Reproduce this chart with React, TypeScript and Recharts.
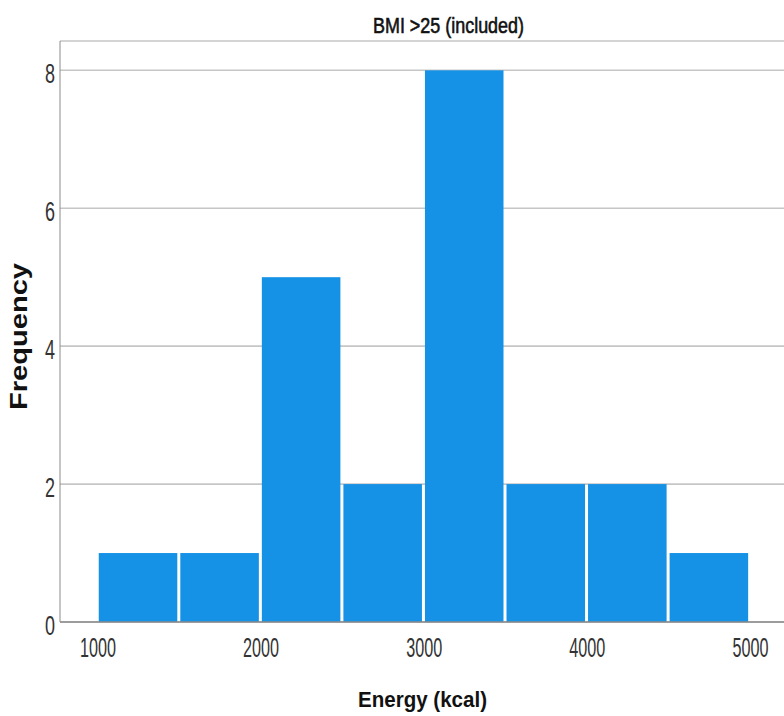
import React from 'react';
import { BarChart, Bar, XAxis, YAxis, CartesianGrid, Customized } from 'recharts';

const binStarts = [1000, 1500, 2000, 2500, 3000, 3500, 4000, 4500];
const binWidth = 500;
const frequencies = [1, 1, 5, 2, 8, 2, 2, 1];
const xTicks = [1000, 2000, 3000, 4000, 5000];
const yTicks = [0, 2, 4, 6, 8];
const title = 'BMI >25 (included)';
const xTitle = 'Energy (kcal)';
const yTitle = 'Frequency';

const data = binStarts.map((s, i) => ({ mid: s + binWidth / 2, freq: frequencies[i] }));

const W = 784;
const H = 716;
const X_AXIS_H = 94;
const MARGIN = { top: 41, right: 0, bottom: 0, left: 0 };
const Y_AXIS_W = 60;
const X_DOMAIN: [number, number] = [773, 5212];
const Y_DOMAIN: [number, number] = [0, 8.425];
const plotW = W - MARGIN.left - MARGIN.right - Y_AXIS_W;
const barPx = (binWidth * plotW) / (X_DOMAIN[1] - X_DOMAIN[0]);

const FONT = "'Liberation Sans', Arial, sans-serif";
const BAR_COLOR = '#1591e6';

const XTick = (props: any) => {
  const { x, payload } = props;
  return (
    <text x={x + 1} y={657} fontFamily={FONT} fontSize={27} fill="#333" textAnchor="middle"
      textLength={36} lengthAdjust="spacingAndGlyphs">
      {payload.value}
    </text>
  );
};

const YTick = (props: any) => {
  const { y, payload } = props;
  return (
    <text x={55} y={y + 12.5} fontFamily={FONT} fontSize={27} fill="#333" textAnchor="end"
      textLength={10} lengthAdjust="spacingAndGlyphs">
      {payload.value}
    </text>
  );
};

const BarShape = (props: any) => {
  const { x, y, width, height } = props;
  if (!height || height <= 0) return null;
  const cx = x + width / 2;
  return <rect x={cx - barPx / 2 + 1.5} y={y} width={barPx - 3} height={height} fill={BAR_COLOR} />;
};

const Titles = () => (
  <g>
    <text x={448.5} y={33} fontFamily={FONT} fontSize={22} fill="#111" stroke="#111" strokeWidth={0.6}
      textAnchor="middle" textLength={151} lengthAdjust="spacingAndGlyphs">
      {title}
    </text>
    <text x={422.5} y={707} fontFamily={FONT} fontSize={22.5} fontWeight="bold" fill="#111"
      textAnchor="middle" textLength={129} lengthAdjust="spacingAndGlyphs">
      {xTitle}
    </text>
    <text x={27} y={336.5} fontFamily={FONT} fontSize={24} fontWeight="bold" fill="#111"
      textAnchor="middle" textLength={147} lengthAdjust="spacingAndGlyphs"
      transform="rotate(-90 27 336.5)">
      {yTitle}
    </text>
  </g>
);

export default function App() {
  return (
    <div style={{ position: 'absolute', left: 0, top: 0, width: W, height: H, background: '#fff' }}>
      <BarChart width={W} height={H} data={data} margin={MARGIN} barCategoryGap={0} barGap={0}>
        <CartesianGrid vertical={false} stroke="#c6c6c6" strokeWidth={1.6} />
        <XAxis
          type="number"
          dataKey="mid"
          domain={X_DOMAIN}
          ticks={xTicks}
          allowDataOverflow
          tickLine={false}
          axisLine={{ stroke: '#8a8a8a', strokeWidth: 1.5 }}
          tick={<XTick />}
          height={X_AXIS_H}
          interval={0}
        />
        <YAxis
          type="number"
          domain={Y_DOMAIN}
          ticks={yTicks}
          allowDataOverflow
          tickLine={false}
          axisLine={{ stroke: '#8a8a8a', strokeWidth: 1 }}
          tick={<YTick />}
          width={Y_AXIS_W}
          interval={0}
        />
        <Bar dataKey="freq" shape={<BarShape />} isAnimationActive={false} />
        <Customized component={Titles} />
      </BarChart>
    </div>
  );
}
